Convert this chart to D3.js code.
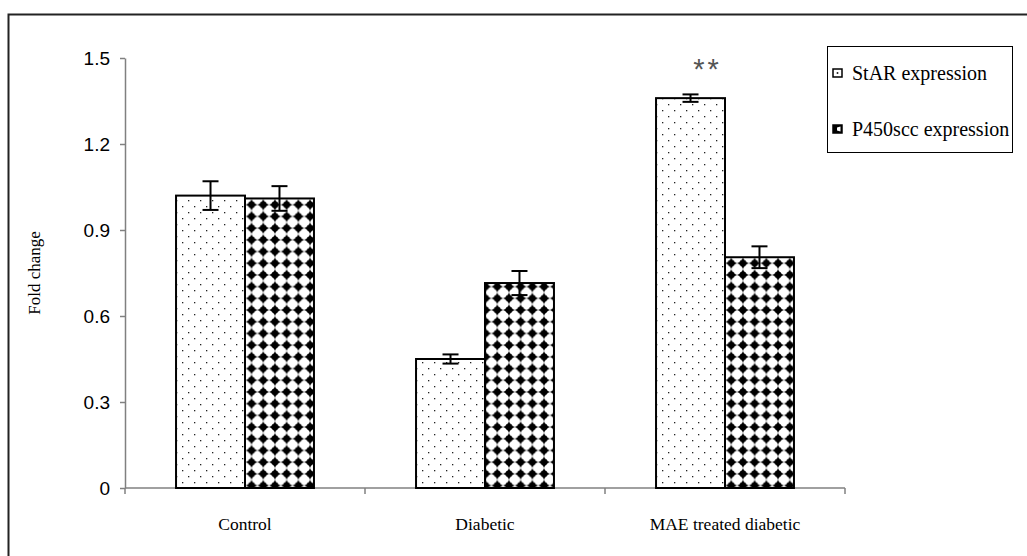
<!DOCTYPE html>
<html>
<head>
<meta charset="utf-8">
<script src="https://cdn.jsdelivr.net/npm/d3@7"></script>
<style>
  body { margin: 0; background: #fff; }
  svg { display: block; }
</style>
</head>
<body>
<svg id="chart" width="1027" height="556"></svg>
<script>
// data
const groups = ["Control", "Diabetic", "MAE treated diabetic"];
const series = ["StAR expression", "P450scc expression"];
const starVals = [1.02, 0.45, 1.36];
const starErr = [0.05, 0.016, 0.013];
const p450Vals = [1.01, 0.715, 0.805];
const p450Err = [0.043, 0.042, 0.038];
const yTicks = [0, 0.3, 0.6, 0.9, 1.2, 1.5];
const marks = ["", "", "**"];

const svg = d3.select("#chart");
const serif = "'Liberation Serif', 'Times New Roman', serif";
const sans = "'Liberation Sans', Arial, sans-serif";

// fill patterns
const defs = svg.append("defs");
const dots = defs.append("pattern")
    .attr("id", "dots").attr("patternUnits", "userSpaceOnUse")
    .attr("width", 12).attr("height", 12);
dots.append("rect").attr("width", 12).attr("height", 12).attr("fill", "#fff");
dots.append("rect").attr("x", 2).attr("y", 2).attr("width", 1.3).attr("height", 1.3).attr("fill", "#222");
dots.append("rect").attr("x", 8).attr("y", 8).attr("width", 1.3).attr("height", 1.3).attr("fill", "#222");

const diam = defs.append("pattern")
    .attr("id", "diam").attr("patternUnits", "userSpaceOnUse")
    .attr("width", 11.7).attr("height", 11.7);
diam.append("rect").attr("width", 11.7).attr("height", 11.7).attr("fill", "#fff");
diam.append("path")
    .attr("d", "M5.85,0 Q7.2,4.5 11.7,5.85 Q7.2,7.2 5.85,11.7 Q4.5,7.2 0,5.85 Q4.5,4.5 5.85,0Z")
    .attr("fill", "#000");
diam.append("circle").attr("cx", 5.85).attr("cy", 5.85).attr("r", 3.4).attr("fill", "#000");

const fills = ["url(#dots)", "url(#diam)"];

// outer frame (only left and top visible)
svg.append("path")
    .attr("d", "M8.5,556 V14.5 H1027")
    .attr("fill", "none").attr("stroke", "#222").attr("stroke-width", 2);

const y = d3.scaleLinear().domain([0, 1.5]).range([488, 58]);
const x0 = d3.scaleBand().domain(groups).range([125, 845]);
const x1 = d3.scaleBand().domain(series).range([0, x0.bandwidth()])
    .paddingInner(0).paddingOuter(0.74);

const rows = [];
groups.forEach((g, i) => {
  rows.push({g, s: series[0], v: starVals[i], e: starErr[i], k: 0});
  rows.push({g, s: series[1], v: p450Vals[i], e: p450Err[i], k: 1});
});

// y axis
const yAxis = svg.append("g")
    .attr("transform", "translate(125,0)")
    .call(d3.axisLeft(y).tickValues(yTicks).tickSize(5).tickSizeOuter(0).tickPadding(10)
        .tickFormat(d => d === 0 ? "0" : d3.format(".1f")(d)));
yAxis.selectAll("path, line").attr("stroke", "#808080").attr("stroke-width", 1.5);
yAxis.selectAll("text").attr("font-family", sans).attr("font-size", 19).attr("fill", "#000");

// x axis: line with ticks at group boundaries
const bounds = groups.map(g => x0(g)).concat([x0(groups[groups.length - 1]) + x0.step()]);
const xAxis = svg.append("g");
xAxis.append("line")
    .attr("x1", x0.range()[0]).attr("x2", x0.range()[1])
    .attr("y1", y(0)).attr("y2", y(0))
    .attr("stroke", "#808080").attr("stroke-width", 1.5);
xAxis.selectAll("line.tk").data(bounds).enter().append("line")
    .attr("class", "tk")
    .attr("x1", d => d).attr("x2", d => d)
    .attr("y1", y(0)).attr("y2", y(0) + 6)
    .attr("stroke", "#808080").attr("stroke-width", 1.5);
xAxis.selectAll("text").data(groups).enter().append("text")
    .attr("x", d => x0(d) + x0.bandwidth() / 2)
    .attr("y", 530)
    .attr("text-anchor", "middle")
    .attr("font-family", serif).attr("font-size", 17.5)
    .text(d => d);

// y label
svg.append("text")
    .attr("transform", "translate(40," + ((y(0) + y(1.5)) / 2) + ") rotate(-90)")
    .attr("text-anchor", "middle")
    .attr("font-family", serif).attr("font-size", 17)
    .text("Fold change");

// bars
svg.selectAll("rect.bar").data(rows).enter().append("rect")
    .attr("class", "bar")
    .attr("x", d => x0(d.g) + x1(d.s))
    .attr("y", d => y(d.v))
    .attr("width", x1.bandwidth())
    .attr("height", d => y(0) - y(d.v))
    .attr("fill", d => fills[d.k])
    .attr("stroke", "#000").attr("stroke-width", 2);

// error bars
const eb = svg.selectAll("g.err").data(rows).enter().append("g")
    .attr("class", "err")
    .attr("transform", d => "translate(" + (x0(d.g) + x1(d.s) + x1.bandwidth() / 2) + ",0)");
eb.append("line")
    .attr("y1", d => y(d.v + d.e)).attr("y2", d => y(d.v - d.e))
    .attr("stroke", "#000").attr("stroke-width", 2);
eb.append("line")
    .attr("x1", -8).attr("x2", 8)
    .attr("y1", d => y(d.v + d.e)).attr("y2", d => y(d.v + d.e))
    .attr("stroke", "#000").attr("stroke-width", 2);
eb.append("line")
    .attr("x1", -8).attr("x2", 8)
    .attr("y1", d => y(d.v - d.e)).attr("y2", d => y(d.v - d.e))
    .attr("stroke", "#000").attr("stroke-width", 2);

// significance marks
svg.selectAll("text.sig").data(groups).enter().append("text")
    .attr("class", "sig")
    .attr("x", (d, i) => x0(d) + x1(series[0]) + x1.bandwidth() / 2 + 17)
    .attr("y", (d, i) => y(starVals[i] + starErr[i]) - 15)
    .attr("text-anchor", "middle")
    .attr("font-family", sans).attr("font-size", 29)
    .attr("letter-spacing", 3)
    .attr("fill", "#555")
    .text((d, i) => marks[i]);

// legend
const leg = svg.append("g").attr("transform", "translate(827,46)");
leg.append("rect")
    .attr("x", 0.5).attr("y", 0.5).attr("width", 185).attr("height", 106)
    .attr("fill", "#fff").attr("stroke", "#000").attr("stroke-width", 1);
const item = leg.selectAll("g.item").data(series).enter().append("g")
    .attr("class", "item")
    .attr("transform", (d, i) => "translate(0," + (27 + i * 56) + ")");
item.append("rect")
    .attr("x", 6).attr("y", -4).attr("width", 9).attr("height", 8)
    .attr("fill", (d, i) => i === 0 ? "#fff" : "#000")
    .attr("stroke", "#000").attr("stroke-width", 1.5);
item.filter((d, i) => i === 0).append("rect")
    .attr("x", 9.7).attr("y", -0.8).attr("width", 1.6).attr("height", 1.6).attr("fill", "#000");
item.filter((d, i) => i === 1).append("path")
    .attr("d", "M10,-1.5 L13.5,-2.5 L13.5,2.5 L10,1.5Z").attr("fill", "#fff");
item.append("text")
    .attr("x", 25).attr("y", 7)
    .attr("font-family", serif).attr("font-size", 20)
    .text(d => d);
</script>
</body>
</html>
